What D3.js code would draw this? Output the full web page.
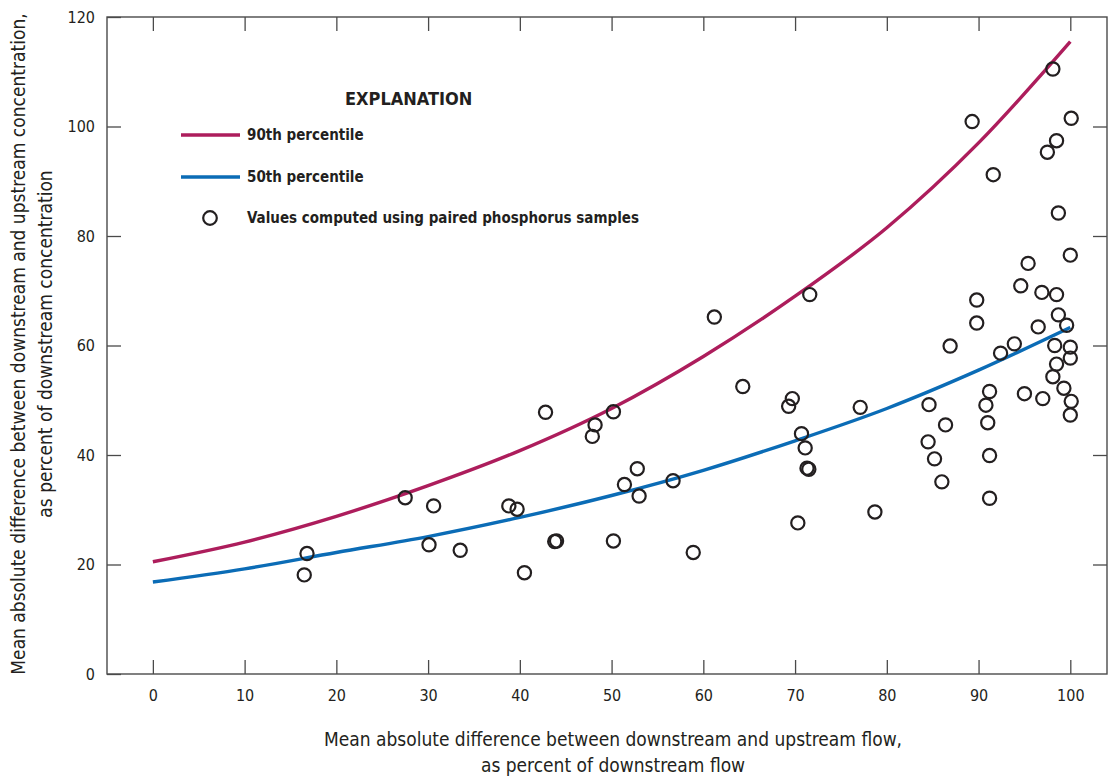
<!DOCTYPE html>
<html>
<head>
<meta charset="utf-8">
<script src="https://cdn.jsdelivr.net/npm/d3@7"></script>
<style>
    body { margin: 0; background: #fff; }
    text { font-family: "Liberation Sans Narrow", "DejaVu Sans Condensed", "Roboto Condensed", sans-serif; fill: #231f20; }
    .tick text { font-size: 16px; }
    .axis-title { font-size: 19px; }
    .legend text { font-weight: bold; font-size: 15px; }
</style>
</head>
<body>
<div id="chart"></div>
<script>
// curve values (percent)
const curveX = [0, 10, 20, 30, 40, 50, 60, 70, 80, 90, 100];
const p90 = [20.5, 24.1, 28.8, 34.4, 40.8, 48.5, 58.0, 69.0, 81.5, 97.0, 115.5];
const p50 = [16.8, 19.2, 22.2, 25.1, 28.6, 32.6, 37.2, 42.6, 48.5, 55.5, 63.3];

// paired phosphorus samples
const sampleX = [16.5, 16.8, 27.5, 30.6, 30.1, 33.5, 38.8, 39.7, 40.5, 42.8, 43.8, 44.0,
    47.9, 48.2, 50.2, 50.2, 51.4, 52.8, 53.0, 56.7, 58.9, 61.2, 64.3, 69.7, 69.3, 70.7,
    71.1, 71.3, 71.5, 70.3, 71.6, 77.1, 78.7,
    84.6, 86.4, 84.5, 85.2, 86.0, 86.9, 89.8, 89.8, 89.3, 91.6, 91.2, 90.8, 91.0, 91.2,
    91.2, 92.4, 93.9, 94.6, 95.4, 95.0, 96.5, 96.9, 97.0, 97.5, 98.1, 98.5, 98.7, 98.5,
    98.7, 98.3, 98.5, 98.1, 99.3, 99.6, 100.0, 100.1, 100.0, 100.0, 100.1, 100.0];
const sampleY = [18.1, 22.0, 32.2, 30.7, 23.6, 22.6, 30.7, 30.1, 18.5, 47.8, 24.2, 24.3,
    43.4, 45.5, 47.9, 24.3, 34.6, 37.5, 32.5, 35.3, 22.2, 65.2, 52.5, 50.3, 48.9, 43.9,
    41.3, 37.6, 37.4, 27.6, 69.3, 48.7, 29.6,
    49.2, 45.5, 42.4, 39.3, 35.1, 59.9, 68.3, 64.1, 100.9, 91.2, 51.6, 49.1, 45.9, 39.9,
    32.1, 58.6, 60.3, 70.9, 75.0, 51.2, 63.4, 69.7, 50.3, 95.3, 110.5, 97.4, 84.2, 69.3,
    65.6, 60.0, 56.6, 54.3, 52.2, 63.7, 76.5, 101.5, 59.7, 57.7, 49.8, 47.3];

const xTicks = [0, 10, 20, 30, 40, 50, 60, 70, 80, 90, 100];
const yTicks = [0, 20, 40, 60, 80, 100, 120];

const legendTitle = "EXPLANATION";
const legendLabels = ["90th percentile", "50th percentile", "Values computed using paired phosphorus samples"];

const colors = { p90: "#ad1d5c", p50: "#0b6cb6", ink: "#231f20", axis: "#4a4a4a" };

const width = 1108, height = 776;
const plot = { left: 107, right: 1107, top: 17, bottom: 674 };

const svg = d3.select("#chart").append("svg")
    .attr("width", width)
    .attr("height", height);

const xScale = d3.scaleLinear().domain([-5, 104]).range([plot.left, plot.right]);
const yScale = d3.scaleLinear().domain([0, 120]).range([plot.bottom, plot.top]);

// axes, ticks pointing inward
svg.append("g")
    .attr("class", "x-axis")
    .attr("transform", `translate(0, ${plot.bottom})`)
    .call(d3.axisBottom(xScale).tickValues(xTicks).tickSizeInner(-14).tickSizeOuter(0).tickPadding(16));

svg.append("g")
    .attr("class", "x-axis-top")
    .attr("transform", `translate(0, ${plot.top})`)
    .call(d3.axisTop(xScale).tickValues(xTicks).tickSizeInner(-14).tickSizeOuter(0).tickFormat(""));

svg.append("g")
    .attr("class", "y-axis")
    .attr("transform", `translate(${plot.left}, 0)`)
    .call(d3.axisLeft(yScale).tickValues(yTicks).tickSizeInner(-14).tickSizeOuter(0).tickPadding(12));

svg.append("g")
    .attr("class", "y-axis-right")
    .attr("transform", `translate(${plot.right}, 0)`)
    .call(d3.axisRight(yScale).tickValues(yTicks.slice(1, -1)).tickSizeInner(-14).tickSizeOuter(0).tickFormat(""));

svg.selectAll(".domain").remove();
svg.selectAll(".tick line").attr("stroke", colors.axis).attr("stroke-width", 1.3);

svg.append("rect")
    .attr("x", plot.left)
    .attr("y", plot.top)
    .attr("width", plot.right - plot.left)
    .attr("height", plot.bottom - plot.top)
    .attr("fill", "none")
    .attr("stroke", colors.axis)
    .attr("stroke-width", 1.4);

// axis titles
const xTitle = svg.append("text")
    .attr("class", "axis-title")
    .attr("text-anchor", "middle");
xTitle.append("tspan").attr("x", 613).attr("y", 746)
    .text("Mean absolute difference between downstream and upstream flow,");
xTitle.append("tspan").attr("x", 613).attr("y", 772)
    .text("as percent of downstream flow");

const yTitle = svg.append("text")
    .attr("class", "axis-title")
    .attr("text-anchor", "middle")
    .attr("transform", "translate(0, 344) rotate(-90)");
yTitle.append("tspan").attr("x", 0).attr("y", 25)
    .text("Mean absolute difference between downstream and upstream concentration,");
yTitle.append("tspan").attr("x", 0).attr("y", 52)
    .text("as percent of downstream concentration");

// percentile curves
const line = d3.line()
    .x(d => xScale(d[0]))
    .y(d => yScale(d[1]))
    .curve(d3.curveMonotoneX);

svg.append("path")
    .datum(curveX.map((v, i) => [v, p90[i]]))
    .attr("d", line)
    .attr("fill", "none")
    .attr("stroke", colors.p90)
    .attr("stroke-width", 3.4);

svg.append("path")
    .datum(curveX.map((v, i) => [v, p50[i]]))
    .attr("d", line)
    .attr("fill", "none")
    .attr("stroke", colors.p50)
    .attr("stroke-width", 3.4);

// samples
svg.append("g")
    .selectAll("circle")
    .data(sampleX.map((v, i) => ({ x: v, y: sampleY[i] })))
    .enter()
    .append("circle")
    .attr("cx", d => xScale(d.x))
    .attr("cy", d => yScale(d.y))
    .attr("r", 6.6)
    .attr("fill", "none")
    .attr("stroke", colors.ink)
    .attr("stroke-width", 2.2);

// legend
const legend = svg.append("g").attr("class", "legend");

legend.append("text")
    .attr("x", 345)
    .attr("y", 105)
    .style("font-size", "18px")
    .text(legendTitle);

const rowY = [135, 177, 218];

legend.append("line")
    .attr("x1", 181).attr("x2", 240)
    .attr("y1", rowY[0]).attr("y2", rowY[0])
    .attr("stroke", colors.p90).attr("stroke-width", 3.4);

legend.append("line")
    .attr("x1", 181).attr("x2", 240)
    .attr("y1", rowY[1]).attr("y2", rowY[1])
    .attr("stroke", colors.p50).attr("stroke-width", 3.4);

legend.append("circle")
    .attr("cx", 210).attr("cy", rowY[2]).attr("r", 6.8)
    .attr("fill", "none")
    .attr("stroke", colors.ink)
    .attr("stroke-width", 2.2);

legend.selectAll("text.label")
    .data(legendLabels)
    .enter()
    .append("text")
    .attr("class", "label")
    .attr("x", 247)
    .attr("y", (d, i) => rowY[i])
    .attr("dy", "0.35em")
    .text(d => d);
</script>
</body>
</html>
